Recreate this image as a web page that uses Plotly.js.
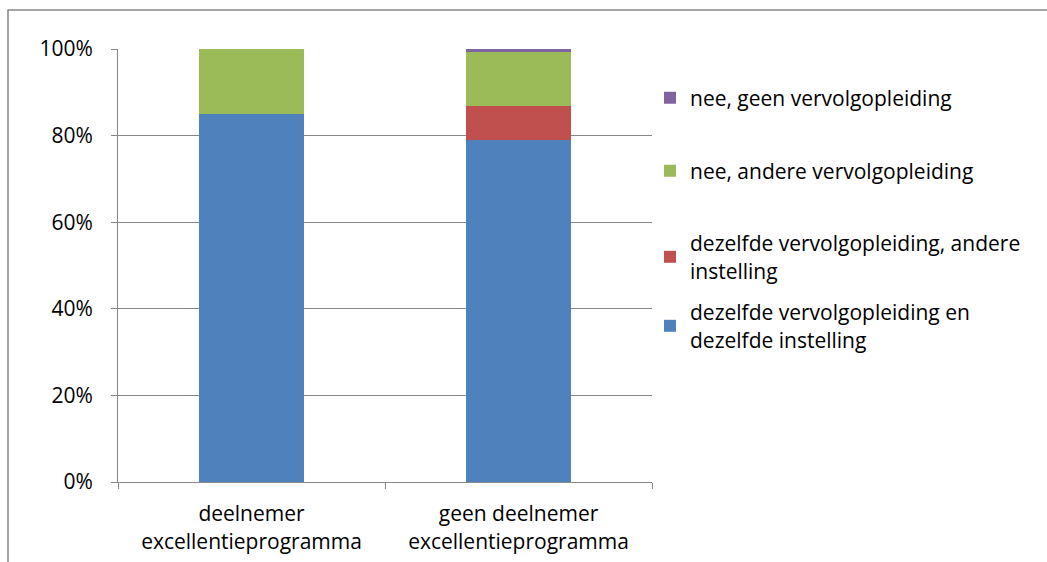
<!DOCTYPE html>
<html>
<head>
<meta charset="utf-8">
<script src="https://cdn.plot.ly/plotly-3.0.1.min.js"></script>
<style>
html,body{margin:0;padding:0;background:#fff;}
#chart{width:1047px;height:562px;}
</style>
</head>
<body>
<div id="chart"></div>
<script>
const categories = ["deelnemer<br>excellentieprogramma", "geen deelnemer<br>excellentieprogramma"];
const seriesNames = [
  "dezelfde vervolgopleiding en<br>dezelfde instelling",
  "dezelfde vervolgopleiding, andere<br>instelling",
  "nee, andere vervolgopleiding",
  "nee, geen vervolgopleiding"
];
const sameBoth = [0.851, 0.790];
const sameProgOtherInst = [0.0, 0.078];
const otherProg = [0.149, 0.124];
const noProg = [0.0, 0.008];
const yTickVals = [0, 0.2, 0.4, 0.6, 0.8, 1.0];
const yTickText = ["0%", "20%", "40%", "60%", "80%", "100%"];

const colors = ["#4F81BD", "#C0504D", "#9BBB59", "#8064A2"];
const seriesValues = [sameBoth, sameProgOtherInst, otherProg, noProg];
const legendIds = ["legend4", "legend3", "legend2", "legend"];

const traces = seriesValues.map((vals, i) => ({
  type: "bar",
  x: categories,
  y: vals,
  name: seriesNames[i],
  legend: legendIds[i],
  marker: {color: colors[i], line: {width: 0}},
  hoverinfo: "x+y+name"
}));

const FONT = "Open Sans, sans-serif";
const L = 118, R = 652, T = 49, B = 482;
const pw = R - L, ph = B - T;

function legendAt(centerPx) {
  return {
    x: (650 - L) / pw,
    xanchor: "left",
    y: (B - centerPx) / ph,
    yanchor: "middle",
    font: {family: FONT, size: 21, color: "#000000"},
    bgcolor: "rgba(0,0,0,0)",
    borderwidth: 0
  };
}

const layout = {
  width: 1047,
  height: 562,
  margin: {l: L, r: 1047 - R, t: T, b: 562 - B},
  barmode: "stack",
  bargap: 0.607,
  paper_bgcolor: "#ffffff",
  plot_bgcolor: "#ffffff",
  font: {family: FONT, size: 21, color: "#000000"},
  showlegend: true,
  legend: legendAt(98),
  legend2: legendAt(171),
  legend3: legendAt(257),
  legend4: legendAt(326),
  xaxis: {
    type: "category",
    showline: true,
    linecolor: "#888888",
    linewidth: 1,
    ticks: "outside",
    tickson: "boundaries",
    ticklen: 6,
    tickcolor: "#888888",
    showgrid: false,
    ticklabelstandoff: 13,
    tickfont: {family: FONT, size: 21, color: "#000000"},
    fixedrange: true
  },
  yaxis: {
    range: [0, 1],
    tickvals: yTickVals,
    ticktext: yTickText,
    showline: true,
    linecolor: "#888888",
    linewidth: 1,
    ticks: "outside",
    ticklen: 6,
    tickcolor: "#888888",
    showgrid: true,
    gridcolor: "#888888",
    gridwidth: 1,
    zeroline: false,
    ticklabelstandoff: 14,
    tickfont: {family: FONT, size: 21, color: "#000000"},
    fixedrange: true
  },
  shapes: [{
    type: "rect",
    xref: "paper", yref: "paper",
    x0: (8 - L) / pw, x1: (1060 - L) / pw,
    y0: (B - 580) / ph, y1: (B - 10) / ph,
    line: {color: "#888888", width: 1.5},
    fillcolor: "rgba(0,0,0,0)",
    layer: "below"
  }]
};

Plotly.newPlot("chart", traces, layout, {displayModeBar: false, staticPlot: true});
</script>
</body>
</html>
